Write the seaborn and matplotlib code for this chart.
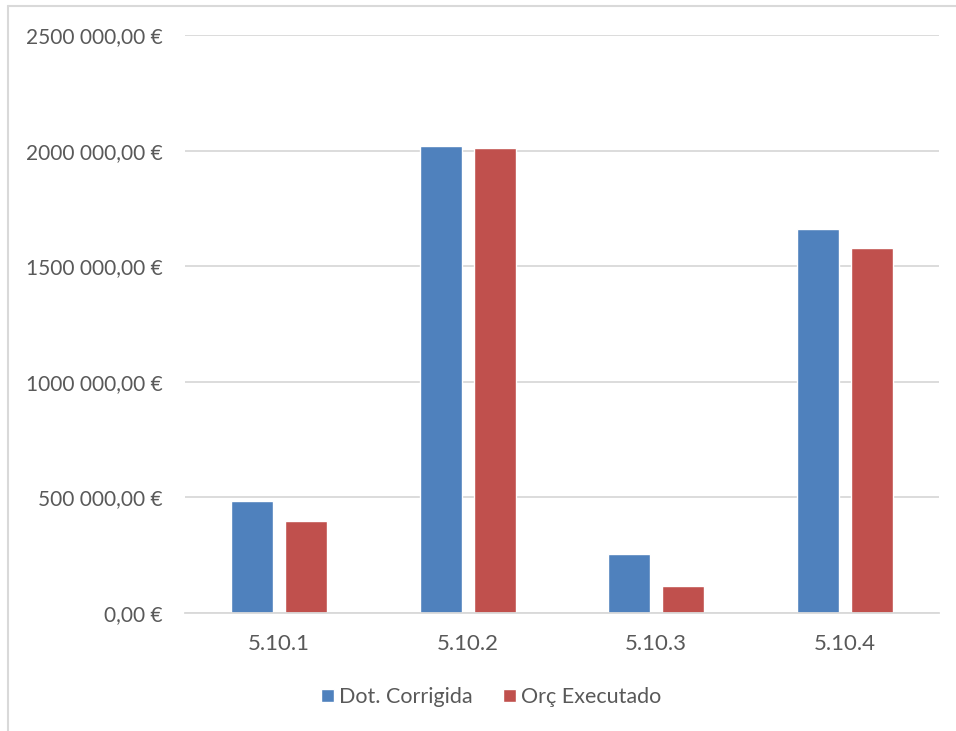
import pandas as pd
import seaborn as sns
import matplotlib.pyplot as plt
from matplotlib.ticker import FuncFormatter
from matplotlib.lines import Line2D

# --- Dados ---
categorias = ['5.10.1', '5.10.2', '5.10.3', '5.10.4']
dot_corrigida = [484000, 2018000, 256000, 1661000]
orc_executado = [396000, 2013000, 117000, 1578000]
series = ['Dot. Corrigida', 'Orç Executado']
cores = ['#4F81BD', '#C0504D']
yticks = [0, 500000, 1000000, 1500000, 2000000, 2500000]

df = pd.DataFrame({
    'categoria': categorias * 2,
    'serie': [series[0]] * 4 + [series[1]] * 4,
    'valor': dot_corrigida + orc_executado,
})

sns.set_style('white')
plt.rcParams['font.family'] = ['Lato', 'DejaVu Sans']
texto = '#595959'
grelha = '#D9D9D9'

fig = plt.figure(figsize=(9.56, 7.31), dpi=100)
ax = fig.add_axes([185 / 956, 1 - 613 / 731, (939 - 185) / 956, (613 - 35) / 731])

sns.barplot(data=df, x='categoria', y='valor', hue='serie', palette=cores,
            width=0.574, gap=0.22, ax=ax, legend=True, saturation=1)

ax.set_ylim(0, 2500000)
ax.set_yticks(yticks)


def fmt_euro(v, pos):
    v = int(round(v))
    if v == 0:
        return '0,00 €'
    return f'{v // 1000} {v % 1000:03d},00 €'


ax.yaxis.set_major_formatter(FuncFormatter(fmt_euro))
ax.grid(axis='y', color=grelha, linewidth=1.3)
ax.set_axisbelow(True)
for lado in ['left', 'right', 'top']:
    ax.spines[lado].set_visible(False)
ax.spines['bottom'].set_color(grelha)
ax.spines['bottom'].set_linewidth(1.3)
ax.tick_params(axis='both', length=0, colors=texto)
ax.tick_params(axis='y', labelsize=15, pad=16)
ax.tick_params(axis='x', labelsize=16, pad=15)
ax.set_xlabel('')
ax.set_ylabel('')

leg = ax.legend(loc='center', bbox_to_anchor=(491 / 956, 1 - 697 / 731),
                bbox_transform=fig.transFigure,
                ncol=2, frameon=False, fontsize=15.5, handlelength=0.6,
                handleheight=0.6, columnspacing=1.4, handletextpad=0.25)
for t in leg.get_texts():
    t.set_color(texto)

# moldura do gráfico
fig.add_artist(Line2D([8 / 956, 1], [1 - 6 / 731] * 2, color=grelha, lw=1.5,
                      transform=fig.transFigure))
fig.add_artist(Line2D([8 / 956] * 2, [0, 1 - 6 / 731], color=grelha, lw=1.5,
                      transform=fig.transFigure))

fig.savefig('out.png', dpi=100)
